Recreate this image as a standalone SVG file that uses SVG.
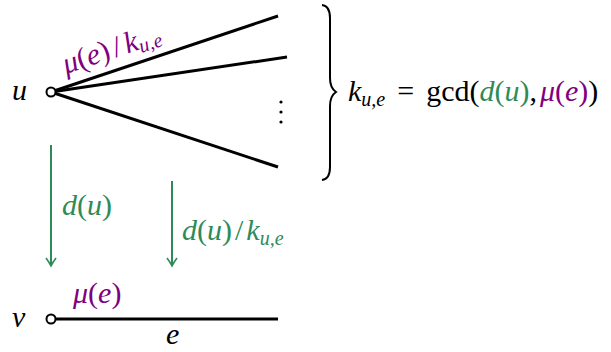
<svg xmlns="http://www.w3.org/2000/svg" width="611" height="352" viewBox="0 0 611 352">
<style>
.t{font-family:"Liberation Serif","DejaVu Serif",serif;font-size:30px;fill:#000}
.i{font-style:italic}
.p{fill:#800080}
.g{fill:#2e8b57}
.sub{font-size:20px;font-style:italic}
.edge{stroke:#000;stroke-width:3;fill:none;stroke-linecap:butt}
.arr{stroke:#2e8b57;stroke-width:2;fill:none}
.node{fill:#fff;stroke:#000;stroke-width:2}
</style>
<defs>
<marker id="ah" markerWidth="12" markerHeight="12" refX="10" refY="6" orient="auto" markerUnits="userSpaceOnUse" viewBox="0 0 12 12">
<path d="M2,1 Q6,4 10,6 Q6,8 2,11" fill="none" stroke="#2e8b57" stroke-width="1.6"/>
</marker>
</defs>
<g id="connectors">
<line class="edge" x1="51" y1="92" x2="278" y2="16"/>
<line class="edge" x1="51" y1="92" x2="287" y2="57"/>
<line class="edge" x1="51" y1="92" x2="278" y2="167"/>
<line class="edge" x1="51" y1="319" x2="278" y2="319"/>
<line class="arr" x1="51" y1="145" x2="51" y2="266" marker-end="url(#ah)"/>
<line class="arr" x1="172" y1="181" x2="172" y2="266" marker-end="url(#ah)"/>
</g>
<g id="node-u">
<circle class="node" cx="51" cy="92" r="4.5"/>
<text class="t i" x="12" y="100">u</text>
</g>
<g id="node-v">
<circle class="node" cx="51" cy="319" r="4.5"/>
<text class="t i" x="12" y="327">v</text>
</g>
<g id="labels">
<text class="t p" transform="translate(66,74) rotate(-18.5)"><tspan class="i">μ</tspan>(<tspan class="i">e</tspan>)<tspan dx="4">/</tspan><tspan dx="4" class="i">k</tspan><tspan class="sub" dy="4">u,e</tspan></text>
<g fill="#000">
<circle cx="281" cy="102" r="1.6"/>
<circle cx="281" cy="112" r="1.6"/>
<circle cx="281" cy="122" r="1.6"/>
</g>
<path d="M322,5 Q330,6 330,18 L330,78 Q330,88 336,92 Q330,96 330,106 L330,167 Q330,179 322,180" fill="none" stroke="#000" stroke-width="2"/>
<text class="t" x="348" y="101"><tspan class="i">k</tspan><tspan class="sub" dy="5">u,e</tspan><tspan dy="-5" dx="12">=</tspan><tspan dx="12">gcd(</tspan><tspan class="g"><tspan class="i">d</tspan>(<tspan class="i">u</tspan>)</tspan>,<tspan dx="3" class="p"><tspan class="i">μ</tspan>(<tspan class="i">e</tspan>)</tspan>)</text>
<text class="t g" x="62" y="215"><tspan class="i">d</tspan>(<tspan class="i">u</tspan>)</text>
<text class="t g" x="182" y="240"><tspan class="i">d</tspan>(<tspan class="i">u</tspan>)<tspan dx="3">/</tspan><tspan dx="3" class="i">k</tspan><tspan class="sub" dy="5">u,e</tspan></text>
<text class="t p" x="73" y="303"><tspan class="i">μ</tspan>(<tspan class="i">e</tspan>)</text>
<text class="t i" x="166" y="344">e</text>
</g>
</svg>
